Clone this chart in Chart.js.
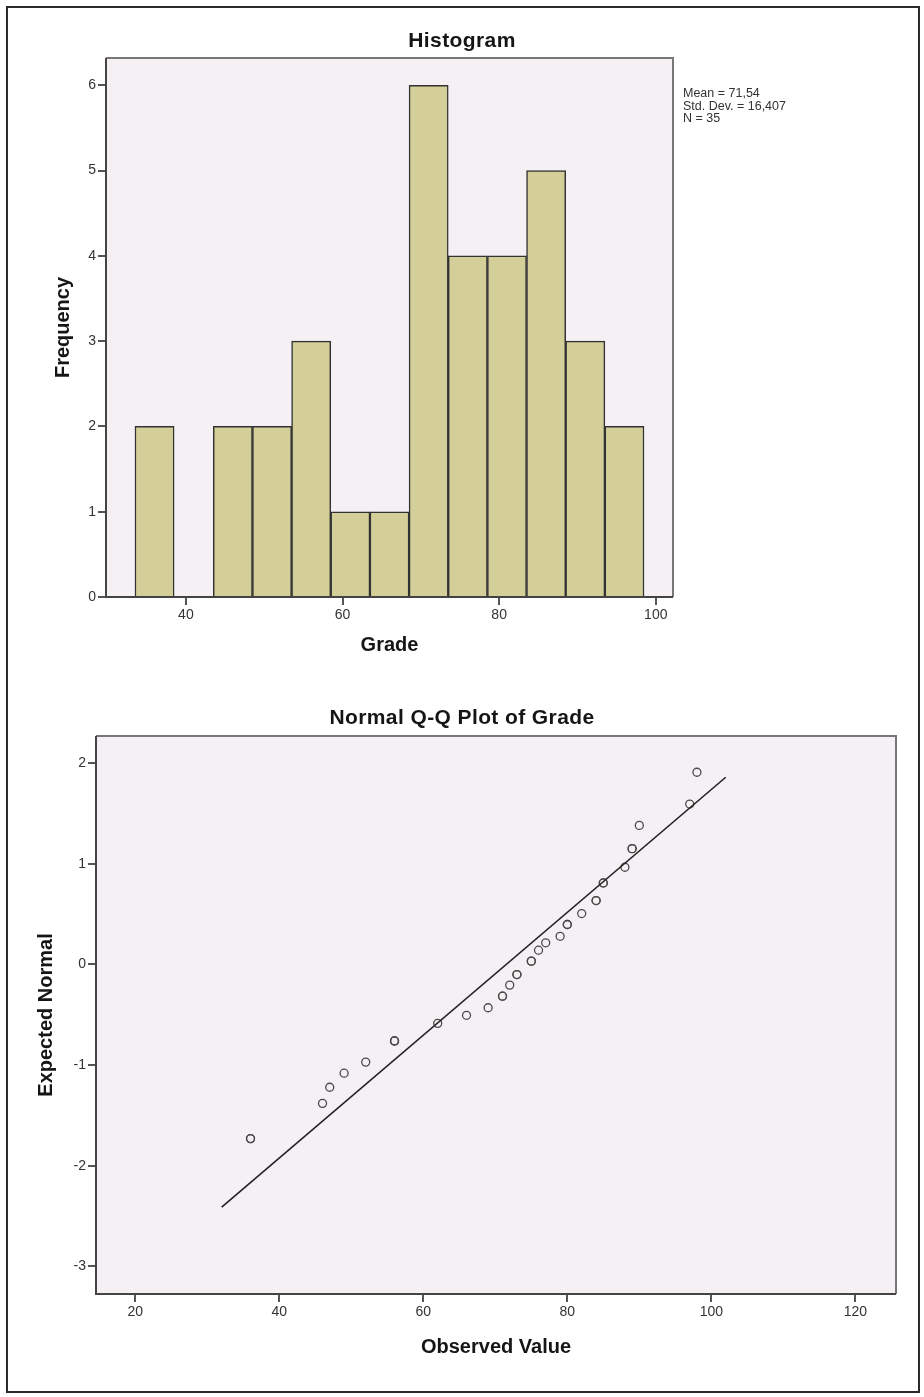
<!DOCTYPE html>
<html>
<head>
<meta charset="utf-8">
<script src="https://cdn.jsdelivr.net/npm/chart.js@4.4.1/dist/chart.umd.min.js"></script>
<style>
  body { margin: 0; background: #fff; font-family: "Liberation Sans", Arial, sans-serif; }
  #page { position: relative; width: 924px; height: 1397px; overflow: hidden; }
  #frame { position: absolute; left: 6px; top: 6px; width: 910px; height: 1383px; border: 2px solid #2a2a2a; }
  canvas { position: absolute; left: 0; }
  .title { position: absolute; left: 0; width: 924px; text-align: center; font-weight: bold;
           font-size: 21px; line-height: 24px; letter-spacing: 0.4px; color: #151515; }
  #stats { position: absolute; left: 683px; top: 87px; font-size: 12.5px; line-height: 12.5px; color: #333; }
</style>
</head>
<body>
<div id="page">
  <div id="frame"></div>
  <canvas id="histChart" width="924" height="690" style="top:0"></canvas>
  <canvas id="qqChart" width="924" height="707" style="top:690px"></canvas>
  <div class="title" style="top:28px;">Histogram</div>
  <div class="title" style="top:705px;">Normal Q-Q Plot of Grade</div>
  <div id="stats">Mean = 71,54<br>Std. Dev. = 16,407<br>N = 35</div>
</div>
<script>
// Histogram of Grade (bin centers, width 5)
const binCenters = [36, 41, 46, 51, 56, 61, 66, 71, 76, 81, 86, 91, 96];
const binCounts = [2, 0, 2, 2, 3, 1, 1, 6, 4, 4, 5, 3, 2];
const histXTicks = [40, 60, 80, 100];
const histYTicks = [0, 1, 2, 3, 4, 5, 6];

// Normal Q-Q plot
const observed = [36, 36, 46, 47, 49, 52, 56, 56, 56, 62, 66, 69, 71, 71, 72, 73, 73,
  75, 75, 76, 77, 79, 80, 80, 82, 84, 84, 85, 85, 88, 89, 89, 90, 97, 98];
const expectedNormal = [-1.73, -1.73, -1.38, -1.22, -1.08, -0.97, -0.76, -0.76, -0.76,
  -0.585, -0.505, -0.43, -0.315, -0.315, -0.205, -0.1, -0.1, 0.033, 0.033, 0.142, 0.215,
  0.28, 0.397, 0.397, 0.506, 0.635, 0.635, 0.81, 0.81, 0.966, 1.151, 1.151, 1.382, 1.594, 1.91];
const refLineX = [32, 102];
const refLineY = [-2.41, 1.86];
const qqXTicks = [20, 40, 60, 80, 100, 120];
const qqYTicks = [-3, -2, -1, 0, 1, 2];

Chart.defaults.font.family = "'Liberation Sans', Arial, sans-serif";
Chart.defaults.color = "#333";

// plot background and box
const plotFrame = {
  id: "plotFrame",
  beforeDraw(chart) {
    const a = chart.chartArea;
    const ctx = chart.ctx;
    ctx.save();
    ctx.fillStyle = "#f4f0f4";
    ctx.fillRect(a.left, a.top, a.right - a.left, a.bottom - a.top);
    ctx.restore();
  },
  afterDraw(chart) {
    const a = chart.chartArea;
    const ctx = chart.ctx;
    ctx.save();
    ctx.lineWidth = 2;
    ctx.strokeStyle = "#777";
    ctx.beginPath();
    ctx.moveTo(a.left, a.top);
    ctx.lineTo(a.right, a.top);
    ctx.lineTo(a.right, a.bottom);
    ctx.stroke();
    ctx.strokeStyle = "#444";
    ctx.beginPath();
    ctx.moveTo(a.left, a.top);
    ctx.lineTo(a.left, a.bottom);
    ctx.lineTo(a.right, a.bottom);
    ctx.stroke();
    ctx.restore();
  },
};

function tickSetter(values) {
  return (scale) => {
    scale.ticks = values.map((v) => ({ value: v }));
  };
}

function axis(min, max, ticks, title, fixedSize, titlePad, horizontal) {
  return {
    type: "linear",
    min: min,
    max: max,
    offset: false,
    afterBuildTicks: tickSetter(ticks),
    afterFit: (scale) => {
      if (horizontal) scale.height = fixedSize;
      else scale.width = fixedSize;
    },
    border: { display: false },
    grid: {
      display: true,
      offset: false,
      drawOnChartArea: false,
      drawTicks: true,
      tickLength: 8,
      tickColor: "#555",
      lineWidth: 2,
    },
    ticks: {
      font: { size: 14 },
      color: "#333",
      padding: 2,
      maxRotation: 0,
    },
    title: {
      display: true,
      text: title,
      font: { size: 20, weight: "bold" },
      color: "#151515",
      padding: titlePad,
    },
  };
}

new Chart(document.getElementById("histChart"), {
  type: "bar",
  data: {
    datasets: [
      {
        data: binCenters.map((c, i) => ({ x: c, y: binCounts[i] })),
        backgroundColor: "#d4cf98",
        borderColor: "#333",
        borderWidth: 1.5,
        borderSkipped: "bottom",
        barPercentage: 1,
        categoryPercentage: 1,
      },
    ],
  },
  options: {
    responsive: false,
    animation: false,
    layout: { padding: { left: 0, top: 58, right: 251, bottom: 0 } },
    plugins: { legend: { display: false }, tooltip: { enabled: false } },
    scales: {
      x: axis(29.8, 102.2, histXTicks, "Grade", 93, { bottom: 33 }, true),
      y: axis(0, 6.32, histYTicks, "Frequency", 106, { top: 51 }, false),
    },
  },
  plugins: [plotFrame],
});

new Chart(document.getElementById("qqChart"), {
  type: "scatter",
  data: {
    datasets: [
      {
        type: "line",
        data: refLineX.map((x, i) => ({ x: x, y: refLineY[i] })),
        borderColor: "#222",
        borderWidth: 1.6,
        pointRadius: 0,
        fill: false,
      },
      {
        data: observed.map((x, i) => ({ x: x, y: expectedNormal[i] })),
        pointStyle: "circle",
        pointRadius: 4,
        pointBorderWidth: 1.3,
        pointBorderColor: "#4a4a4a",
        pointBackgroundColor: "rgba(0,0,0,0)",
      },
    ],
  },
  options: {
    responsive: false,
    animation: false,
    layout: { padding: { left: 0, top: 46, right: 28, bottom: 0 } },
    plugins: { legend: { display: false }, tooltip: { enabled: false } },
    scales: {
      x: axis(14.54, 125.65, qqXTicks, "Observed Value", 103, { bottom: 38 }, true),
      y: axis(-3.274, 2.27, qqYTicks, "Expected Normal", 96, { top: 34 }, false),
    },
  },
  plugins: [plotFrame],
});
</script>
</body>
</html>
